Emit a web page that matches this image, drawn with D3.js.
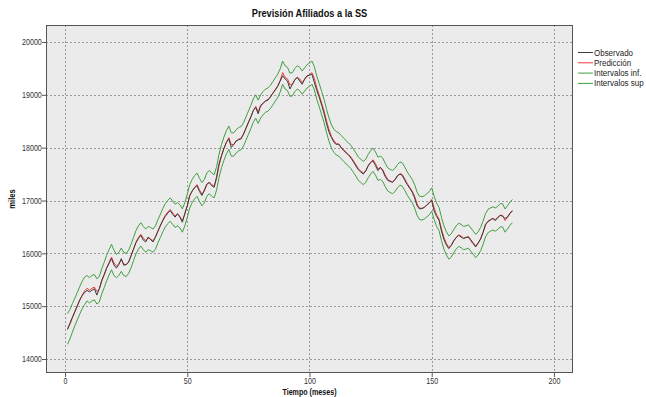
<!DOCTYPE html>
<html>
<head>
<meta charset="utf-8">
<script src="https://cdn.jsdelivr.net/npm/d3@7/dist/d3.min.js"></script>
<style>
  html, body { margin: 0; padding: 0; background: #ffffff; }
  svg { display: block; }
  text { font-family: "Liberation Sans", Arial, sans-serif; }
</style>
</head>
<body>
<svg id="chart" width="646" height="397"></svg>
<script>
// Monthly series (thousands of affiliates), months 1..183
const observado = [
  14560,14680,14790,14900,15010,15120,15200,15260,15300,15270,
  15300,15330,15210,15330,15490,15600,15720,15810,15900,15780,
  15720,15790,15900,15775,15790,15830,15960,16080,16200,16280,
  16340,16250,16215,16310,16260,16215,16320,16420,16530,16620,
  16700,16760,16810,16740,16685,16750,16680,16590,16760,16900,
  17100,17180,17240,17280,17170,17095,17200,17310,17340,17280,
  17250,17450,17700,17850,17990,18100,18165,18005,18060,18130,
  18150,18165,18260,18370,18480,18580,18700,18760,18640,18800,
  18840,18880,18900,18960,19030,19090,19160,19260,19360,19300,
  19260,19110,19200,19290,19330,19260,19200,19300,19360,19370,
  19390,19230,19080,18950,18800,18640,18450,18290,18190,18100,
  18060,18070,17990,17945,17900,17860,17800,17730,17650,17580,
  17540,17500,17560,17660,17720,17750,17660,17565,17630,17560,
  17450,17380,17360,17345,17400,17470,17500,17470,17380,17300,
  17230,17160,17050,16900,16840,16850,16870,16920,16960,17000,
  16800,16700,16620,16420,16260,16160,16090,16150,16240,16300,
  16340,16310,16280,16300,16310,16240,16180,16120,16200,16275,
  16400,16550,16600,16630,16660,16620,16680,16720,16700,16660,
  16690,16760,16810
];
const prediccion = [
  14570,14660,14780,14890,15000,15110,15210,15290,15340,15300,
  15340,15360,15280,15320,15470,15590,15720,15830,15930,15820,
  15760,15800,15880,15800,15780,15840,15950,16080,16210,16300,
  16360,16290,16240,16290,16270,16240,16300,16420,16520,16630,
  16720,16780,16830,16770,16710,16740,16700,16620,16740,16900,
  17080,17180,17250,17300,17200,17120,17180,17300,17350,17300,
  17270,17420,17660,17840,17980,18100,18190,18060,18060,18120,
  18160,18180,18250,18360,18470,18580,18700,18780,18680,18780,
  18840,18890,18910,18960,19030,19100,19170,19270,19420,19330,
  19300,19190,19200,19280,19330,19300,19230,19290,19350,19380,
  19420,19310,19130,18990,18840,18690,18500,18340,18210,18130,
  18080,18060,18010,17960,17910,17870,17820,17750,17680,17600,
  17560,17520,17560,17650,17720,17770,17700,17600,17620,17580,
  17480,17400,17370,17350,17390,17460,17510,17490,17410,17320,
  17250,17180,17080,16940,16860,16850,16870,16910,16950,17020,
  16860,16730,16650,16460,16300,16190,16110,16150,16230,16300,
  16350,16330,16290,16300,16320,16260,16200,16140,16190,16270,
  16390,16530,16610,16640,16660,16640,16670,16720,16720,16620,
  16680,16750,16800
];
const intervalosInf = [
  14280,14380,14510,14630,14740,14850,14950,15030,15100,15060,
  15100,15120,15040,15080,15230,15350,15480,15590,15690,15580,
  15540,15580,15660,15580,15560,15620,15730,15860,15990,16080,
  16140,16070,16020,16070,16050,16020,16080,16200,16300,16410,
  16500,16560,16610,16550,16490,16520,16480,16400,16520,16680,
  16860,16960,17030,17080,16980,16900,16960,17080,17130,17080,
  17050,17200,17440,17620,17760,17880,17970,17840,17840,17900,
  17940,17960,18030,18140,18250,18360,18480,18560,18460,18560,
  18620,18670,18690,18740,18810,18880,18950,19050,19200,19110,
  19080,18970,18980,19060,19110,19080,19010,19070,19130,19160,
  19200,19090,18910,18770,18620,18470,18280,18120,17990,17910,
  17860,17840,17790,17740,17690,17650,17600,17530,17460,17380,
  17340,17300,17340,17430,17500,17550,17480,17380,17400,17360,
  17260,17180,17150,17130,17170,17240,17290,17270,17190,17100,
  17030,16960,16860,16720,16640,16630,16650,16690,16730,16800,
  16640,16510,16430,16240,16080,15970,15890,15930,16010,16080,
  16130,16110,16070,16080,16100,16040,15980,15920,15970,16050,
  16170,16310,16390,16420,16440,16420,16450,16500,16500,16400,
  16460,16530,16580
];
const intervalosSup = [
  14860,14940,15050,15150,15260,15370,15470,15550,15580,15540,
  15580,15600,15520,15560,15710,15830,15960,16070,16170,16060,
  15980,16020,16100,16020,16000,16060,16170,16300,16430,16520,
  16580,16510,16460,16510,16490,16460,16520,16640,16740,16850,
  16940,17000,17050,16990,16930,16960,16920,16840,16960,17120,
  17300,17400,17470,17520,17420,17340,17400,17520,17570,17520,
  17490,17640,17880,18060,18200,18320,18410,18280,18280,18340,
  18380,18400,18470,18580,18690,18800,18920,19000,18900,19000,
  19060,19110,19130,19180,19250,19320,19390,19490,19640,19550,
  19520,19410,19420,19500,19550,19520,19450,19510,19570,19600,
  19640,19530,19350,19210,19060,18910,18720,18560,18430,18350,
  18300,18280,18230,18180,18130,18090,18040,17970,17900,17820,
  17780,17740,17780,17870,17940,17990,17920,17820,17840,17800,
  17700,17620,17590,17570,17610,17680,17730,17710,17630,17540,
  17470,17400,17300,17160,17080,17070,17090,17130,17170,17240,
  17080,16950,16870,16680,16520,16410,16330,16370,16450,16520,
  16570,16550,16510,16520,16540,16480,16420,16360,16410,16490,
  16610,16750,16830,16860,16880,16860,16890,16940,16940,16840,
  16900,16970,17020
];
const xTicks = [0, 50, 100, 150, 200];
const yTicks = [14000, 15000, 16000, 17000, 18000, 19000, 20000];
const seriesNames = ["Observado", "Predicción", "Intervalos inf.", "Intervalos sup"];
const seriesColors = ["#3a3a3a", "#f23a3a", "#3f9f3f", "#3f9f3f"];

const svg = d3.select("#chart");
const plot = { left: 46, top: 25, right: 573, bottom: 373 };
const squeeze = 0.84; // horizontal compression for a condensed look

const x = d3.scaleLinear().domain([-7.8, 207.8]).range([plot.left, plot.right]);
const y = d3.scaleLinear().domain([13736, 20321]).range([plot.bottom, plot.top]);

// Places a horizontally condensed text label
function label(parent, px, py, str, size, weight, anchor, color) {
  return parent.append("text")
    .attr("transform", `translate(${px},${py}) scale(${squeeze},1)`)
    .attr("text-anchor", anchor || "start")
    .style("font-size", size + "px")
    .style("font-weight", weight || "normal")
    .attr("fill", color || "#222")
    .text(str);
}

// Title
label(svg, (plot.left + plot.right) / 2, 17, "Previsión Afiliados a la SS", 11, "bold", "middle", "#111");

// Plot background
svg.append("rect")
  .attr("x", plot.left).attr("y", plot.top)
  .attr("width", plot.right - plot.left).attr("height", plot.bottom - plot.top)
  .attr("fill", "#ebebeb");

// Grid lines
const grid = svg.append("g").attr("stroke", "#9a9a9a").attr("stroke-width", 1).attr("stroke-dasharray", "2,2");
grid.selectAll(".gy").data(yTicks).join("line")
  .attr("x1", plot.left).attr("x2", plot.right)
  .attr("y1", d => Math.round(y(d)) + 0.5).attr("y2", d => Math.round(y(d)) + 0.5);
grid.selectAll(".gx").data(xTicks).join("line")
  .attr("y1", plot.top).attr("y2", plot.bottom)
  .attr("x1", d => Math.round(x(d)) + 0.5).attr("x2", d => Math.round(x(d)) + 0.5);

// Axes
const yAxis = svg.append("g")
  .attr("transform", `translate(${plot.left},0)`)
  .call(d3.axisLeft(y).tickValues(yTicks).tickFormat(d3.format("d")).tickSize(4).tickPadding(1));
const xAxis = svg.append("g")
  .attr("transform", `translate(0,${plot.bottom})`)
  .call(d3.axisBottom(x).tickValues(xTicks).tickFormat(d3.format("d")).tickSize(4).tickPadding(1));
[xAxis, yAxis].forEach(g => {
  g.select(".domain").remove();
  g.selectAll("line").attr("stroke", "#555");
  g.selectAll("text").style("font-size", "8.5px").attr("fill", "#333")
    .attr("transform", `scale(${squeeze},1)`);
});

// Series lines
const months = observado.map((_, i) => i + 1);
const line = d3.line().x((d, i) => x(months[i])).y(d => y(d));
const series = [observado, prediccion, intervalosInf, intervalosSup];
const drawOrder = [2, 3, 1, 0];
svg.append("g").attr("fill", "none")
  .selectAll("path").data(drawOrder).join("path")
  .attr("d", k => line(series[k]))
  .attr("stroke", k => seriesColors[k])
  .attr("stroke-width", 1);

// Plot frame
svg.append("rect")
  .attr("x", plot.left + 0.5).attr("y", plot.top + 0.5)
  .attr("width", plot.right - plot.left - 1).attr("height", plot.bottom - plot.top - 1)
  .attr("fill", "none").attr("stroke", "#555").attr("stroke-width", 1);

// Axis titles
label(svg, (plot.left + plot.right) / 2, 394.5, "Tiempo (meses)", 8.5, "bold", "middle", "#111");
svg.append("text")
  .attr("transform", `translate(15,${(plot.top + plot.bottom) / 2}) rotate(-90) scale(${squeeze},1)`)
  .attr("text-anchor", "middle")
  .style("font-size", "9px").style("font-weight", "bold").attr("fill", "#111")
  .text("miles");

// Legend
const legend = svg.append("g").attr("transform", "translate(578,52)");
seriesNames.forEach((name, i) => {
  const row = legend.append("g").attr("transform", `translate(0,${i * 10.3})`);
  row.append("line").attr("x1", 0).attr("x2", 15).attr("y1", 0.5).attr("y2", 0.5)
    .attr("stroke", seriesColors[i]).attr("stroke-width", 1);
  label(row, 16, 3.5, name, 9.5, "normal", "start", "#222");
});
</script>
</body>
</html>
